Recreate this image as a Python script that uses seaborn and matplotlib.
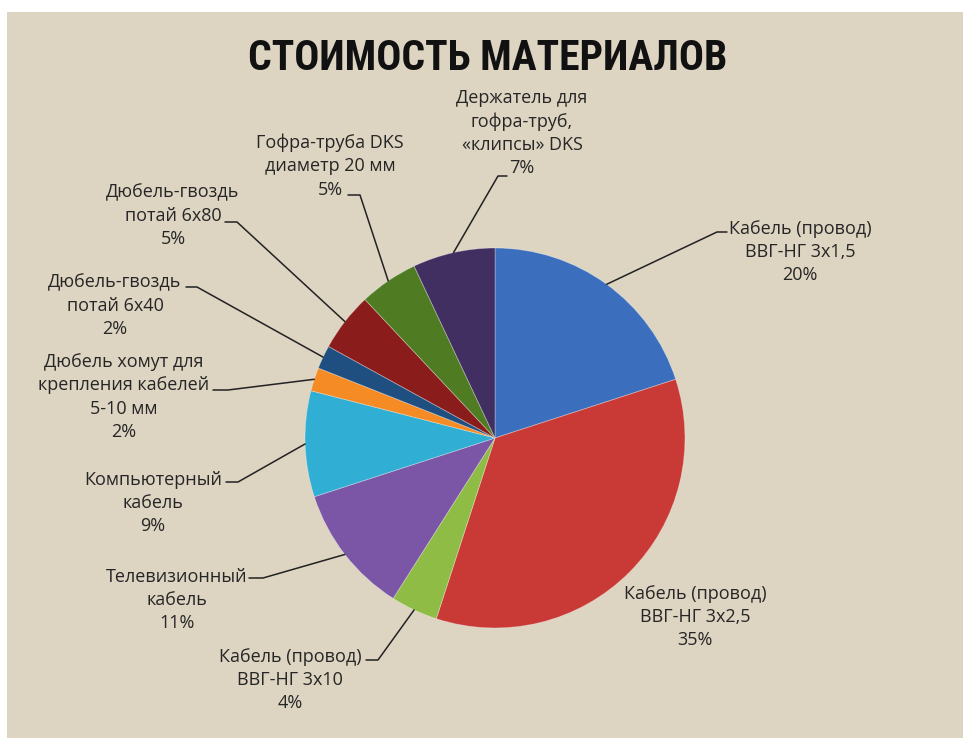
import numpy as np
import matplotlib
matplotlib.use("Agg")
import matplotlib.pyplot as plt
from matplotlib.patches import Rectangle
import seaborn as sns

# chart data
categories = [
    "Кабель (провод)\nВВГ-НГ 3х1,5",
    "Кабель (провод)\nВВГ-НГ 3х2,5",
    "Кабель (провод)\nВВГ-НГ 3х10",
    "Телевизионный\nкабель",
    "Компьютерный\nкабель",
    "Дюбель хомут для\nкрепления кабелей\n5-10 мм",
    "Дюбель-гвоздь\nпотай 6х40",
    "Дюбель-гвоздь\nпотай 6х80",
    "Гофра-труба DKS\nдиаметр 20 мм",
    "Держатель для\nгофра-труб,\n«клипсы» DKS",
]
shares = [20, 35, 4, 11, 9, 2, 2, 5, 5, 7]
slice_colors = ["#3b6fbd", "#c93a36", "#8fbc45", "#7b55a6", "#31aed3",
                "#f58b25", "#1f4f80", "#8a1d1c", "#4f7c22", "#412f62"]
title = "СТОИМОСТЬ МАТЕРИАЛОВ"

# layout (image pixels, y from top)
W, H = 963, 738
CX, CY, R = 495, 438, 190
label_pos = [(800, 252), (695, 617), (290, 680), (177, 600), (153, 503),
             (124, 397), (115, 306), (173, 216), (330, 166), (522, 133)]
# leader stub: x at text side, x at elbow, y
stubs = [(727, 717, 232), None, (366, 378, 660), (249, 263, 578), (226, 238, 482),
         (213, 228, 390), (186, 197, 287), (225, 237, 222), (348, 360, 195), (507, 498, 176)]

sns.set_theme(style="white")
plt.rcParams['font.family'] = ['Open Sans', 'DejaVu Sans']

fig = plt.figure(figsize=(W / 100, H / 100), dpi=100)
fig.patch.set_facecolor("white")
ax = fig.add_axes([0, 0, 1, 1])

# linen-ish background panel
ax.add_patch(Rectangle((7, 0), W - 7, H - 12, facecolor="#ddd4c2",
                       edgecolor="none", zorder=0))

wedges, _ = ax.pie(shares, colors=slice_colors, startangle=90,
                   counterclock=False, center=(CX, H - CY), radius=R,
                   wedgeprops=dict(linewidth=0.6, edgecolor=(1, 1, 1, 0.35)))
for w in wedges:
    w.set_zorder(2)
ax.set_xlim(0, W)
ax.set_ylim(0, H)
ax.set_aspect("equal")
ax.axis("off")

ax.text(488, H - 58, title, ha="center", va="center", fontsize=30,
        fontweight="bold", color="#111111",
        family=['Roboto Condensed', 'Roboto', 'DejaVu Sans'])

for w, cat, val, (tx, ty), stub in zip(wedges, categories, shares, label_pos, stubs):
    ax.text(tx, H - ty, f"{cat}\n{val}%", ha="center", va="center",
            fontsize=13, linespacing=1.38, color="#262626", zorder=3)
    if stub is None:
        continue
    # leader from the middle of the slice edge to the label
    ang = np.deg2rad((w.theta1 + w.theta2) / 2)
    px, py = CX + R * np.cos(ang), (H - CY) + R * np.sin(ang)
    ax.plot([px, stub[1], stub[0]], [py, H - stub[2], H - stub[2]],
            color="#222222", lw=1.1, zorder=3)

fig.savefig("out.png", dpi=100, facecolor=fig.get_facecolor())
